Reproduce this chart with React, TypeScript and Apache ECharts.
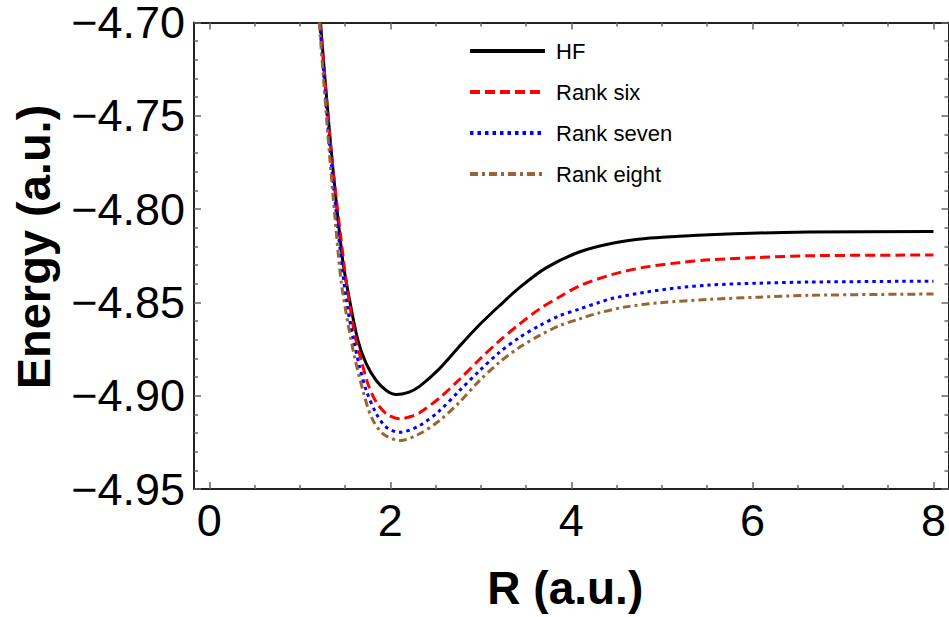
import React, { useEffect, useRef } from "react";
import * as echarts from "echarts";

// ---- data ----
const hfR = [1.228, 1.338, 1.47, 1.551, 1.643, 1.735, 1.846, 1.956, 2.066, 2.2, 2.323, 2.544, 2.764, 2.985, 3.205, 3.426, 3.72, 4.087, 4.454, 4.823, 5.19, 5.52, 6.071, 6.622, 8.0];
const hfE = [-4.700, -4.764, -4.826, -4.849, -4.8705, -4.883, -4.892, -4.8972, -4.8994, -4.8982, -4.895, -4.8855, -4.8735, -4.862, -4.8518, -4.8421, -4.8315, -4.823, -4.8183, -4.8158, -4.8146, -4.8137, -4.8128, -4.8123, -4.812];

const sixR = [1.228, 1.34, 1.497, 1.551, 1.606, 1.68, 1.753, 1.846, 1.956, 2.103, 2.25, 2.323, 2.544, 2.764, 2.985, 3.205, 3.426, 3.646, 3.867, 4.087, 4.454, 4.823, 5.19, 5.52, 6.071, 6.622, 8.0];
const sixE = [-4.700, -4.766, -4.833, -4.851, -4.867, -4.8812, -4.8937, -4.9035, -4.9097, -4.9124, -4.9108, -4.9092, -4.9012, -4.8913, -4.8806, -4.8706, -4.8617, -4.8536, -4.8471, -4.8412, -4.835, -4.831, -4.8287, -4.8272, -4.8259, -4.825, -4.8246];

const sevenR = [1.22, 1.33, 1.447, 1.515, 1.588, 1.662, 1.735, 1.846, 1.956, 2.103, 2.323, 2.544, 2.764, 2.985, 3.205, 3.426, 3.646, 3.867, 4.087, 4.308, 4.454, 4.823, 5.19, 5.52, 6.071, 6.622, 8.0];
const sevenE = [-4.700, -4.766, -4.8225, -4.8492, -4.8688, -4.8848, -4.8973, -4.9097, -4.9169, -4.9196, -4.916, -4.908, -4.8973, -4.8866, -4.8768, -4.8688, -4.8625, -4.8572, -4.8536, -4.85, -4.8478, -4.8445, -4.8421, -4.8407, -4.8397, -4.8391, -4.8386];

const eightR = [1.215, 1.32, 1.422, 1.46, 1.533, 1.606, 1.698, 1.791, 1.918, 2.11, 2.323, 2.544, 2.764, 2.985, 3.205, 3.426, 3.646, 3.867, 4.087, 4.308, 4.6, 4.97, 5.52, 6.071, 6.622, 8.0];
const eightE = [-4.700, -4.766, -4.8225, -4.840, -4.8616, -4.8795, -4.8973, -4.9115, -4.9204, -4.924, -4.9204, -4.9133, -4.9035, -4.8919, -4.8821, -4.8741, -4.8678, -4.8625, -4.8589, -4.8556, -4.8524, -4.8502, -4.8484, -4.8472, -4.8462, -4.8455];

const seriesNames = ["HF", "Rank six", "Rank seven", "Rank eight"];

const xMajor = [0, 2, 4, 6, 8];
const xMinor = [0.5, 1, 1.5, 2.5, 3, 3.5, 4.5, 5, 5.5, 6.5, 7, 7.5];
const yMajor = [-4.95, -4.9, -4.85, -4.8, -4.75, -4.7];
const yMinor = [-4.94, -4.93, -4.92, -4.91, -4.89, -4.88, -4.87, -4.86, -4.84, -4.83, -4.82, -4.81, -4.79, -4.78, -4.77, -4.76, -4.74, -4.73, -4.72, -4.71];

const X_MIN = -0.1687;
const X_MAX = 8.166;
const Y_MIN = -4.95;
const Y_MAX = -4.7;

const FONT = "'Liberation Sans', Arial, Helvetica, sans-serif";

function zip(r: number[], e: number[]) {
  return r.map((v, i) => [v, e[i]]);
}

export default function App() {
  const ref = useRef<HTMLDivElement>(null);
  useEffect(() => {
    if (!ref.current) return;
    const chart = echarts.init(ref.current, undefined, { renderer: "svg" });
    const frame = { color: "#222", width: 2 };
    const tickStyle = { color: "#666", width: 1.5 };
    const mkX = (pos: "bottom" | "top", major: boolean, extra: any = {}) => ({
      type: "value",
      position: pos,
      min: X_MIN,
      max: X_MAX,
      splitLine: { show: false },
      axisLine: { show: major, onZero: false, lineStyle: frame },
      axisTick: {
        show: true,
        inside: true,
        length: major ? 7 : 4,
        customValues: major ? xMajor : xMinor,
        lineStyle: tickStyle,
      },
      axisLabel: { show: false },
      ...extra,
    });
    const mkY = (pos: "left" | "right", major: boolean, extra: any = {}) => ({
      type: "value",
      position: pos,
      min: Y_MIN,
      max: Y_MAX,
      splitLine: { show: false },
      axisLine: { show: major, onZero: false, lineStyle: frame },
      axisTick: {
        show: true,
        inside: true,
        length: major ? 7 : 4,
        customValues: major ? yMajor : yMinor,
        lineStyle: tickStyle,
      },
      axisLabel: { show: false },
      ...extra,
    });

    const lineBase = { type: "line", showSymbol: false, symbol: "none", smooth: 0.3, clip: true, xAxisIndex: 0, yAxisIndex: 0 };

    chart.setOption({
      animation: false,
      backgroundColor: "#fff",
      grid: { left: 194, top: 21, width: 756, height: 468, containLabel: false },
      legend: {
        data: seriesNames,
        orient: "vertical",
        left: 468,
        top: 40,
        padding: 0,
        itemWidth: 75,
        itemHeight: 14,
        itemGap: 19,
        itemStyle: { opacity: 0 },
        lineStyle: { width: 4 },
        textStyle: { fontFamily: FONT, fontSize: 22, color: "#000", padding: [0, 0, 0, 6] },
      },
      graphic: [
        {
          type: "text",
          x: 33,
          y: 247,
          rotation: Math.PI / 2,
          style: {
            text: "Energy (a.u.)",
            fontFamily: FONT,
            fontSize: 47,
            fontWeight: "bold",
            fill: "#000",
            align: "center",
            verticalAlign: "middle",
          },
        },
      ],
      xAxis: [
        mkX("bottom", true, {
          axisLabel: {
            show: true,
            customValues: xMajor,
            fontFamily: FONT,
            fontSize: 45,
            color: "#000",
            margin: 9,
            formatter: (v: number) => String(v),
          },
          name: "R (a.u.)",
          nameLocation: "middle",
          nameGap: 76,
          nameTextStyle: { fontFamily: FONT, fontSize: 46, fontWeight: "bold", color: "#000", padding: [0, 12, 0, 0] },
        }),
        mkX("bottom", false),
        mkX("top", true),
        mkX("top", false),
      ],
      yAxis: [
        mkY("left", true, {
          axisLabel: {
            show: true,
            customValues: yMajor,
            fontFamily: FONT,
            fontSize: 45,
            lineHeight: 40,
            color: "#000",
            margin: 9,
            formatter: (v: number) => "\u2212" + (-v).toFixed(2),
          },
        }),
        mkY("left", false),
        mkY("right", true),
        mkY("right", false),
      ],
      series: [
        { ...lineBase, name: seriesNames[0], data: zip(hfR, hfE), lineStyle: { color: "#000000", width: 3, type: "solid" }, itemStyle: { color: "#000000" } },
        { ...lineBase, name: seriesNames[1], data: zip(sixR, sixE), lineStyle: { color: "#ff0000", width: 3, type: [10, 5] }, itemStyle: { color: "#ff0000" } },
        { ...lineBase, name: seriesNames[2], data: zip(sevenR, sevenE), lineStyle: { color: "#0000ff", width: 3, type: [3.5, 4] }, itemStyle: { color: "#0000ff" } },
        { ...lineBase, name: seriesNames[3], data: zip(eightR, eightE), lineStyle: { color: "#996633", width: 3, type: [8, 4, 3, 4] }, itemStyle: { color: "#996633" } },
      ],
    });
    return () => chart.dispose();
  }, []);
  return (
    <div
      ref={ref}
      style={{ position: "fixed", left: 0, top: 0, width: 949, height: 617, background: "#fff" }}
    />
  );
}
